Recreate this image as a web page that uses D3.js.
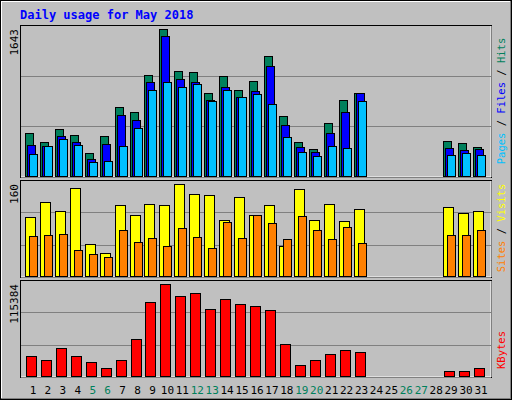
<!DOCTYPE html>
<html><head><meta charset="utf-8">
<script src="https://cdn.jsdelivr.net/npm/d3@7"></script>
<style>body{margin:0;background:#fff}svg{display:block}</style>
</head><body>
<svg id="chart" width="512" height="400"></svg>
<script>
// daily stats, May 2018 (days 24-28 have no data)
var days = [1,2,3,4,5,6,7,8,9,10,11,12,13,14,15,16,17,18,19,20,21,22,23,24,25,26,27,28,29,30,31];
var weekend = [5,6,12,13,19,20,26,27];
var hits   = [481,380,525,458,257,447,771,715,1129,1643,1174,1163,928,1118,961,1062,1341,671,380,302,592,850,928,0,0,0,0,0,391,369,324];
var files  = [347,335,447,380,190,358,682,626,1051,1565,1084,1051,850,995,883,950,1230,570,324,268,481,715,928,0,0,0,0,0,313,291,302];
var pages  = [246,335,414,347,156,168,335,537,961,1051,995,1028,838,961,883,917,805,436,268,224,335,313,838,0,0,0,0,0,235,257,235];
var visits = [103,129,113,153,56,40,123,106,125,123,160,143,141,97,137,106,123,52,151,97,125,96,117,0,0,0,0,0,120,110,113];
var sites  = [70,71,73,45,38,33,80,59,66,52,83,68,49,94,66,106,92,64,104,80,64,85,57,0,0,0,0,0,71,71,80];
var kbytes = [25080,20064,35112,25080,17556,10032,20064,46398,92796,115384,100320,104082,84018,96558,90288,87780,82764,40128,13794,20064,27588,32604,30096,0,0,0,0,0,6270,6270,10032];

var svg = d3.select('#chart');
var FONT = 'DejaVu Sans Mono, monospace';

// outer frame
svg.append('rect').attr('x',0).attr('y',0).attr('width',512).attr('height',400).attr('fill','#c0c0c0');
svg.append('path').attr('d','M1,399V1H511').attr('stroke','#fff').attr('stroke-width',2).attr('fill','none');
svg.append('path').attr('d','M1,399H511V1').attr('stroke','#808080').attr('stroke-width',2).attr('fill','none');
svg.append('rect').attr('x',0.5).attr('y',0.5).attr('width',511).attr('height',399).attr('fill','none').attr('stroke','#000');

svg.append('text').attr('x',20).attr('y',19).attr('font-family',FONT).attr('font-weight','bold')
  .attr('font-size',12).attr('fill','#0000ff').text('Daily usage for May 2018');

var x = d3.scaleLinear().domain([1,31]).range([33,481]);

function panel(top, bottom, max) {
  svg.append('rect').attr('x',20.5).attr('y',top+0.5).attr('width',471).attr('height',bottom-top)
    .attr('fill','#c0c0c0').attr('stroke','#000');
  svg.append('path').attr('d','M21,'+(bottom)+'H491V'+(top+1)).attr('stroke','#fff').attr('fill','none');
  var h = bottom - top;
  [1/3, 2/3].forEach(function(f){
    svg.append('line').attr('x1',21).attr('x2',491).attr('y1',Math.round(top+h*f)+0.5).attr('y2',Math.round(top+h*f)+0.5)
      .attr('stroke','#808080');
  });
  return d3.scaleLinear().domain([0,max]).range([bottom-1, top+4]);
}

function bars(data, y, dx, w, color) {
  svg.append('g').selectAll('rect').data(data.map(function(v,i){return {d:days[i],v:v};}).filter(function(o){return o.v>0;}))
    .join('rect')
    .attr('x', function(o){return Math.round(x(o.d))+dx+0.5;})
    .attr('y', function(o){return Math.round(y(o.v))+0.5;})
    .attr('width', w)
    .attr('height', function(o){return y(0)-Math.round(y(o.v));})
    .attr('fill', color).attr('stroke','#000');
}

function sideLabels(yMid, parts, maxLabel, top) {
  svg.append('text').attr('transform','translate(18,'+(top+4)+') rotate(-90)').attr('text-anchor','end')
    .attr('font-family',FONT).attr('font-size',11).attr('fill','#000').text(maxLabel);
  var t = svg.append('text').attr('transform','translate(505,'+yMid+') rotate(-90)').attr('text-anchor','middle')
    .attr('font-family',FONT).attr('font-size',10.5);
  parts.forEach(function(p){ t.append('tspan').attr('fill',p[1]).text(p[0]); });
}

var y1 = panel(25, 177, 1643);
bars(hits, y1, -8, 8, '#00805c');
bars(files, y1, -6, 8, '#0000ff');
bars(pages, y1, -4, 8, '#00c0ff');
sideLabels(101, [['Pages','#00c0ff'],[' / ','#000'],['Files','#0000ff'],[' / ','#000'],['Hits','#00805c']], '1643', 25);

var y2 = panel(180, 277, 160);
bars(visits, y2, -8, 10, '#ffff00');
bars(sites, y2, -4, 8, '#ff8000');
sideLabels(228, [['Sites','#ff8000'],[' / ','#000'],['Visits','#ffff00']], '160', 180);

var y3 = panel(280, 377, 115384);
bars(kbytes, y3, -7, 10, '#ff0000');
sideLabels(350, [['KBytes','#ff0000']], '115384', 280);

svg.append('g').selectAll('text').data(days).join('text')
  .attr('x', function(d){return x(d);}).attr('y',394).attr('text-anchor','middle')
  .attr('font-family',FONT).attr('font-size',11)
  .attr('fill', function(d){return weekend.indexOf(d)>=0 ? '#00805c' : '#000';})
  .text(function(d){return d;});
</script>
</body></html>
